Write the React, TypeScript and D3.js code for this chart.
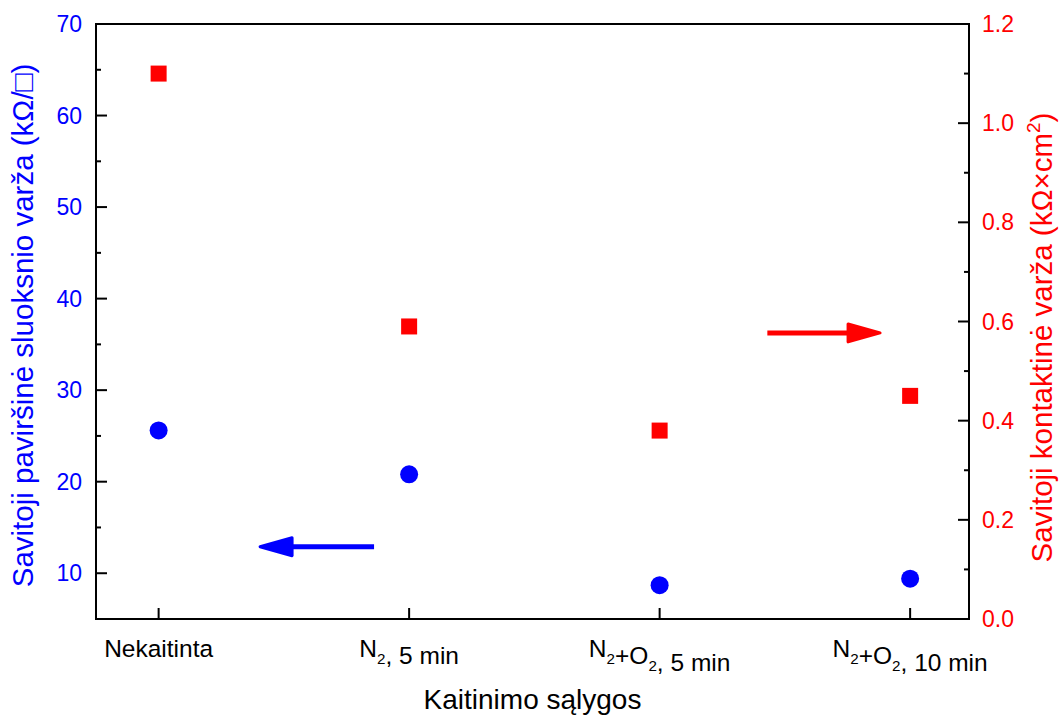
import React, { useEffect, useRef } from 'react';
import * as d3 from 'd3';

// categories along the x axis (subscript digits marked with _)
const categories = ['Nekaitinta', 'N_2, 5 min', 'N_2+O_2, 5 min', 'N_2+O_2, 10 min'];
// sheet resistance, left axis (kOhm/sq)
const sheetValues = [25.6, 20.8, 8.7, 9.4];
// contact resistance, right axis (kOhm x cm2)
const contactValues = [1.1, 0.59, 0.38, 0.45];
const leftTicks = [10, 20, 30, 40, 50, 60, 70];
const rightTicks = [0, 0.2, 0.4, 0.6, 0.8, 1.0, 1.2];
// arrows: [from index, to index, value]
const blueArrow = [0.86, 0.405, 12.9];
const redArrow = [2.43, 2.88, 0.577];

const W = 1060;
const H = 717;
const FONT = 'Liberation Sans, Arial, sans-serif';

function drawSubLabel(sel, label, fontSize) {
  // split "N_2+O_2" into normal and subscript pieces
  const parts = label.split(/(_\d)/).filter(p => p.length);
  parts.forEach(p => {
    if (p.startsWith('_')) {
      sel.append('tspan').attr('font-size', fontSize * 0.62).attr('dy', 7).text(p.slice(1));
      sel.append('tspan').attr('font-size', fontSize).attr('dy', -7).text('');
    } else {
      sel.append('tspan').attr('font-size', fontSize).text(p);
    }
  });
}

function Chart() {
  const ref = useRef();

  useEffect(() => {
    document.body.style.margin = '0';
    const svg = d3.select(ref.current);
    svg.selectAll('*').remove();
    svg.attr('width', W).attr('height', H).style('background', '#fff');

    const left = 96, right = 969, top = 24, bottom = 619;

    const x = d3.scaleLinear().domain([-0.25, 3.235]).range([left, right]);
    const yL = d3.scaleLinear().domain([5, 70]).range([bottom, top]);
    const yR = d3.scaleLinear().domain([0, 1.2]).range([bottom, top]);

    // frame
    svg.append('rect')
      .attr('x', left).attr('y', top)
      .attr('width', right - left).attr('height', bottom - top)
      .attr('fill', 'none').attr('stroke', '#000').attr('stroke-width', 2);

    // left axis ticks (inward)
    const gl = svg.append('g').attr('font-family', FONT);
    gl.selectAll('line.maj').data(leftTicks).enter().append('line')
      .attr('x1', left).attr('x2', left + 11)
      .attr('y1', d => yL(d)).attr('y2', d => yL(d))
      .attr('stroke', '#000').attr('stroke-width', 2);
    gl.selectAll('line.min').data(d3.range(15, 70, 10)).enter().append('line')
      .attr('x1', left).attr('x2', left + 5)
      .attr('y1', d => yL(d)).attr('y2', d => yL(d))
      .attr('stroke', '#000').attr('stroke-width', 2);
    gl.selectAll('text').data(leftTicks).enter().append('text')
      .attr('x', 82).attr('y', d => yL(d) + 8)
      .attr('text-anchor', 'end').attr('font-size', 23).attr('fill', '#0000ff')
      .text(d => d);

    // right axis ticks (inward)
    const gr = svg.append('g').attr('font-family', FONT);
    gr.selectAll('line.maj').data(rightTicks).enter().append('line')
      .attr('x1', right).attr('x2', right - 11)
      .attr('y1', d => yR(d)).attr('y2', d => yR(d))
      .attr('stroke', '#000').attr('stroke-width', 2);
    gr.selectAll('line.min').data(d3.range(0.1, 1.2, 0.2)).enter().append('line')
      .attr('x1', right).attr('x2', right - 5)
      .attr('y1', d => yR(d)).attr('y2', d => yR(d))
      .attr('stroke', '#000').attr('stroke-width', 2);
    gr.selectAll('text').data(rightTicks).enter().append('text')
      .attr('x', 982).attr('y', d => yR(d) + 8)
      .attr('text-anchor', 'start').attr('font-size', 23).attr('fill', '#ff0000')
      .text(d => d3.format('.1f')(d));

    // bottom ticks and category labels
    const gb = svg.append('g').attr('font-family', FONT);
    gb.selectAll('line').data(categories).enter().append('line')
      .attr('x1', (d, i) => x(i)).attr('x2', (d, i) => x(i))
      .attr('y1', bottom).attr('y2', bottom - 11)
      .attr('stroke', '#000').attr('stroke-width', 2);
    gb.selectAll('text').data(categories).enter().append('text')
      .attr('x', (d, i) => x(i)).attr('y', 657)
      .attr('text-anchor', 'middle').attr('fill', '#000')
      .each(function (d) { drawSubLabel(d3.select(this), d, 24.5); });

    // axis titles
    svg.append('text')
      .attr('transform', `translate(33, ${(top + bottom) / 2 + 4}) rotate(-90)`)
      .attr('text-anchor', 'middle').attr('font-family', FONT)
      .attr('font-size', 29.5).attr('fill', '#0000ff')
      .text('Savitoji paviršinė sluoksnio varža (kΩ/□)');

    const rt = svg.append('text')
      .attr('transform', `translate(1052, ${(top + bottom) / 2 + 16}) rotate(-90)`)
      .attr('text-anchor', 'middle').attr('font-family', FONT)
      .attr('font-size', 29.5).attr('fill', '#ff0000');
    rt.append('tspan').text('Savitoji kontaktinė varža (kΩ×cm');
    rt.append('tspan').attr('font-size', 19).attr('dy', -12).text('2');
    rt.append('tspan').attr('dy', 12).text(')');

    svg.append('text')
      .attr('x', (left + right) / 2).attr('y', 709)
      .attr('text-anchor', 'middle').attr('font-family', FONT)
      .attr('font-size', 28).attr('fill', '#000')
      .text('Kaitinimo sąlygos');

    // data markers
    svg.append('g').selectAll('circle').data(sheetValues).enter().append('circle')
      .attr('cx', (d, i) => x(i)).attr('cy', d => yL(d)).attr('r', 9)
      .attr('fill', '#0000ff');
    svg.append('g').selectAll('rect').data(contactValues).enter().append('rect')
      .attr('x', (d, i) => x(i) - 8).attr('y', d => yR(d) - 8)
      .attr('width', 16).attr('height', 16)
      .attr('fill', '#ff0000');

    // arrows
    const arrow = (x0, x1, y, color) => {
      const dir = Math.sign(x1 - x0);
      const headLen = 32, half = 9;
      const xb = x1 - dir * headLen;
      svg.append('line')
        .attr('x1', x0).attr('x2', xb + dir * 4).attr('y1', y).attr('y2', y)
        .attr('stroke', color).attr('stroke-width', 5);
      svg.append('path')
        .attr('d', `M${xb},${y - half}L${x1},${y}L${xb},${y + half}Z`)
        .attr('fill', color).attr('stroke', color)
        .attr('stroke-width', 3).attr('stroke-linejoin', 'round');
    };
    arrow(x(blueArrow[0]), x(blueArrow[1]), yL(blueArrow[2]), '#0000ff');
    arrow(x(redArrow[0]), x(redArrow[1]), yR(redArrow[2]), '#ff0000');
  }, []);

  return <svg ref={ref}></svg>;
}

export default function App() {
  return <Chart />;
}
